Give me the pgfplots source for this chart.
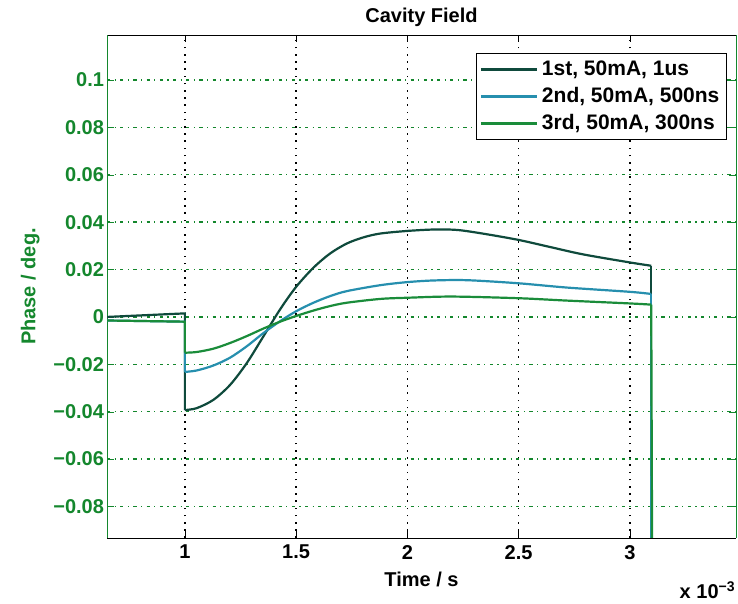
\documentclass[border=0pt]{standalone}
\usepackage{fontspec}
\setmainfont{Liberation Sans}
\usepackage{pgfplots}
\pgfplotsset{compat=1.18}
\definecolor{cdark}{RGB}{15,74,60}
\definecolor{cblue}{RGB}{38,143,174}
\definecolor{cgreen}{RGB}{26,140,58}
\definecolor{tgreen}{RGB}{20,135,45}
\begin{document}
\begin{tikzpicture}
\begin{axis}[
  name=ax,
  scale only axis,
  width=314.5pt, height=251.5pt,
  xmin=0.65, xmax=3.477,
  ymin=-0.0933, ymax=0.119,
  xtick={1,1.5,2,2.5,3},
  xticklabels={1,1.5,2,2.5,3},
  ytick={-0.08,-0.06,-0.04,-0.02,0,0.02,0.04,0.06,0.08,0.1},
  yticklabels={−0.08,−0.06,−0.04,−0.02,0,0.02,0.04,0.06,0.08,0.1},
  font=\bfseries,
  tick label style={font=\bfseries},
  yticklabel style={text=tgreen, xshift=2pt},
  xticklabel style={yshift=0pt},
  title={Cavity Field},
  title style={yshift=-5.5pt},
  xlabel={Time / s},
  xlabel style={yshift=0.5pt},
  ylabel={Phase / deg.},
  ylabel style={text=tgreen},
  separate axis lines,
  x axis line style={black},
  y axis line style={tgreen},
  xtick style={black},
  ytick style={tgreen},
  major tick length=3.5pt,
  xmajorgrids, ymajorgrids,
  major x grid style={black, line width=0.8pt, dash pattern=on 0.8pt off 2.8pt},
  major y grid style={tgreen, line width=0.7pt, dash pattern=on 1.6pt off 2.2pt on 0.6pt off 2.2pt},
  legend style={at={(1,1)}, anchor=north east, xshift=-4.5pt, yshift=-9pt,
    font=\fontsize{10.5}{12}\bfseries, draw=black, line width=0.6pt, inner sep=1.5pt, row sep=0.5pt},
  legend cell align=left,
  legend image code/.code={\draw[#1, line width=1.2pt] (0pt,0pt) -- (28pt,0pt);},
  every axis plot/.append style={line width=1.1pt},
]
% 1st, 50mA, 1us
\addplot[cdark, smooth] coordinates {
 (1.0,-0.0393) (1.053,-0.0385) (1.128,-0.0350) (1.203,-0.0287)
 (1.278,-0.0195) (1.353,-0.0082) (1.428,0.0032) (1.5,0.0127) (1.578,0.0208)
 (1.653,0.0268) (1.728,0.0310) (1.803,0.0336) (1.878,0.0352) (2.0,0.0363)
 (2.12,0.0369) (2.225,0.0367) (2.344,0.0351) (2.5,0.0325) (2.642,0.0295)
 (2.79,0.0264) (3.0,0.0230) (3.096,0.0216)
};
\addlegendentry{1st, 50mA, 1us}
\addplot[cdark, forget plot] coordinates {(0.65,0) (1.0,0.0015) (1.0,-0.0393)};
\addplot[cdark, forget plot] coordinates {(3.096,0.0216) (3.096,-0.1)};
% 2nd, 50mA, 500ns
\addplot[cblue, smooth] coordinates {
 (1.0,-0.0232) (1.053,-0.0226) (1.128,-0.0205) (1.203,-0.0172)
 (1.278,-0.0124) (1.353,-0.0068) (1.428,-0.0018) (1.5,0.0024) (1.578,0.0060)
 (1.653,0.0088) (1.728,0.0109) (1.878,0.0134) (2.0,0.0147) (2.12,0.0154)
 (2.27,0.0155) (2.5,0.0142) (2.717,0.0124) (3.0,0.0106) (3.096,0.0097)
};
\addlegendentry{2nd, 50mA, 500ns}
\addplot[cblue, forget plot] coordinates {(0.65,-0.0015) (1.0,-0.002) (1.0,-0.0232)};
\addplot[cblue, forget plot] coordinates {(3.096,0.0097) (3.096,-0.1)};
% 3rd, 50mA, 300ns
\addplot[cgreen, smooth] coordinates {
 (1.0,-0.0151) (1.053,-0.0148) (1.128,-0.0134) (1.203,-0.0110)
 (1.278,-0.0081) (1.353,-0.0049) (1.428,-0.0020) (1.5,0.0004) (1.578,0.0027)
 (1.653,0.0046) (1.728,0.0060) (1.878,0.0076) (2.0,0.0081) (2.2,0.0086)
 (2.5,0.0079) (2.717,0.0069) (3.0,0.0057) (3.096,0.0052)
};
\addlegendentry{3rd, 50mA, 300ns}
\addplot[cgreen, forget plot] coordinates {(0.65,-0.0015) (1.0,-0.002) (1.0,-0.0151)};
\addplot[cgreen, forget plot] coordinates {(3.096,0.0052) (3.1,-0.1)};
\end{axis}
\node[anchor=north east, font=\bfseries, inner sep=0pt] at ([yshift=-21.5pt]ax.south east) {x 10\textsuperscript{−3}};
\pgfresetboundingbox
\path ([xshift=-53.5pt,yshift=-33pt]ax.south west) rectangle ([xshift=1pt,yshift=17.5pt]ax.north east);
\end{tikzpicture}
\end{document}
